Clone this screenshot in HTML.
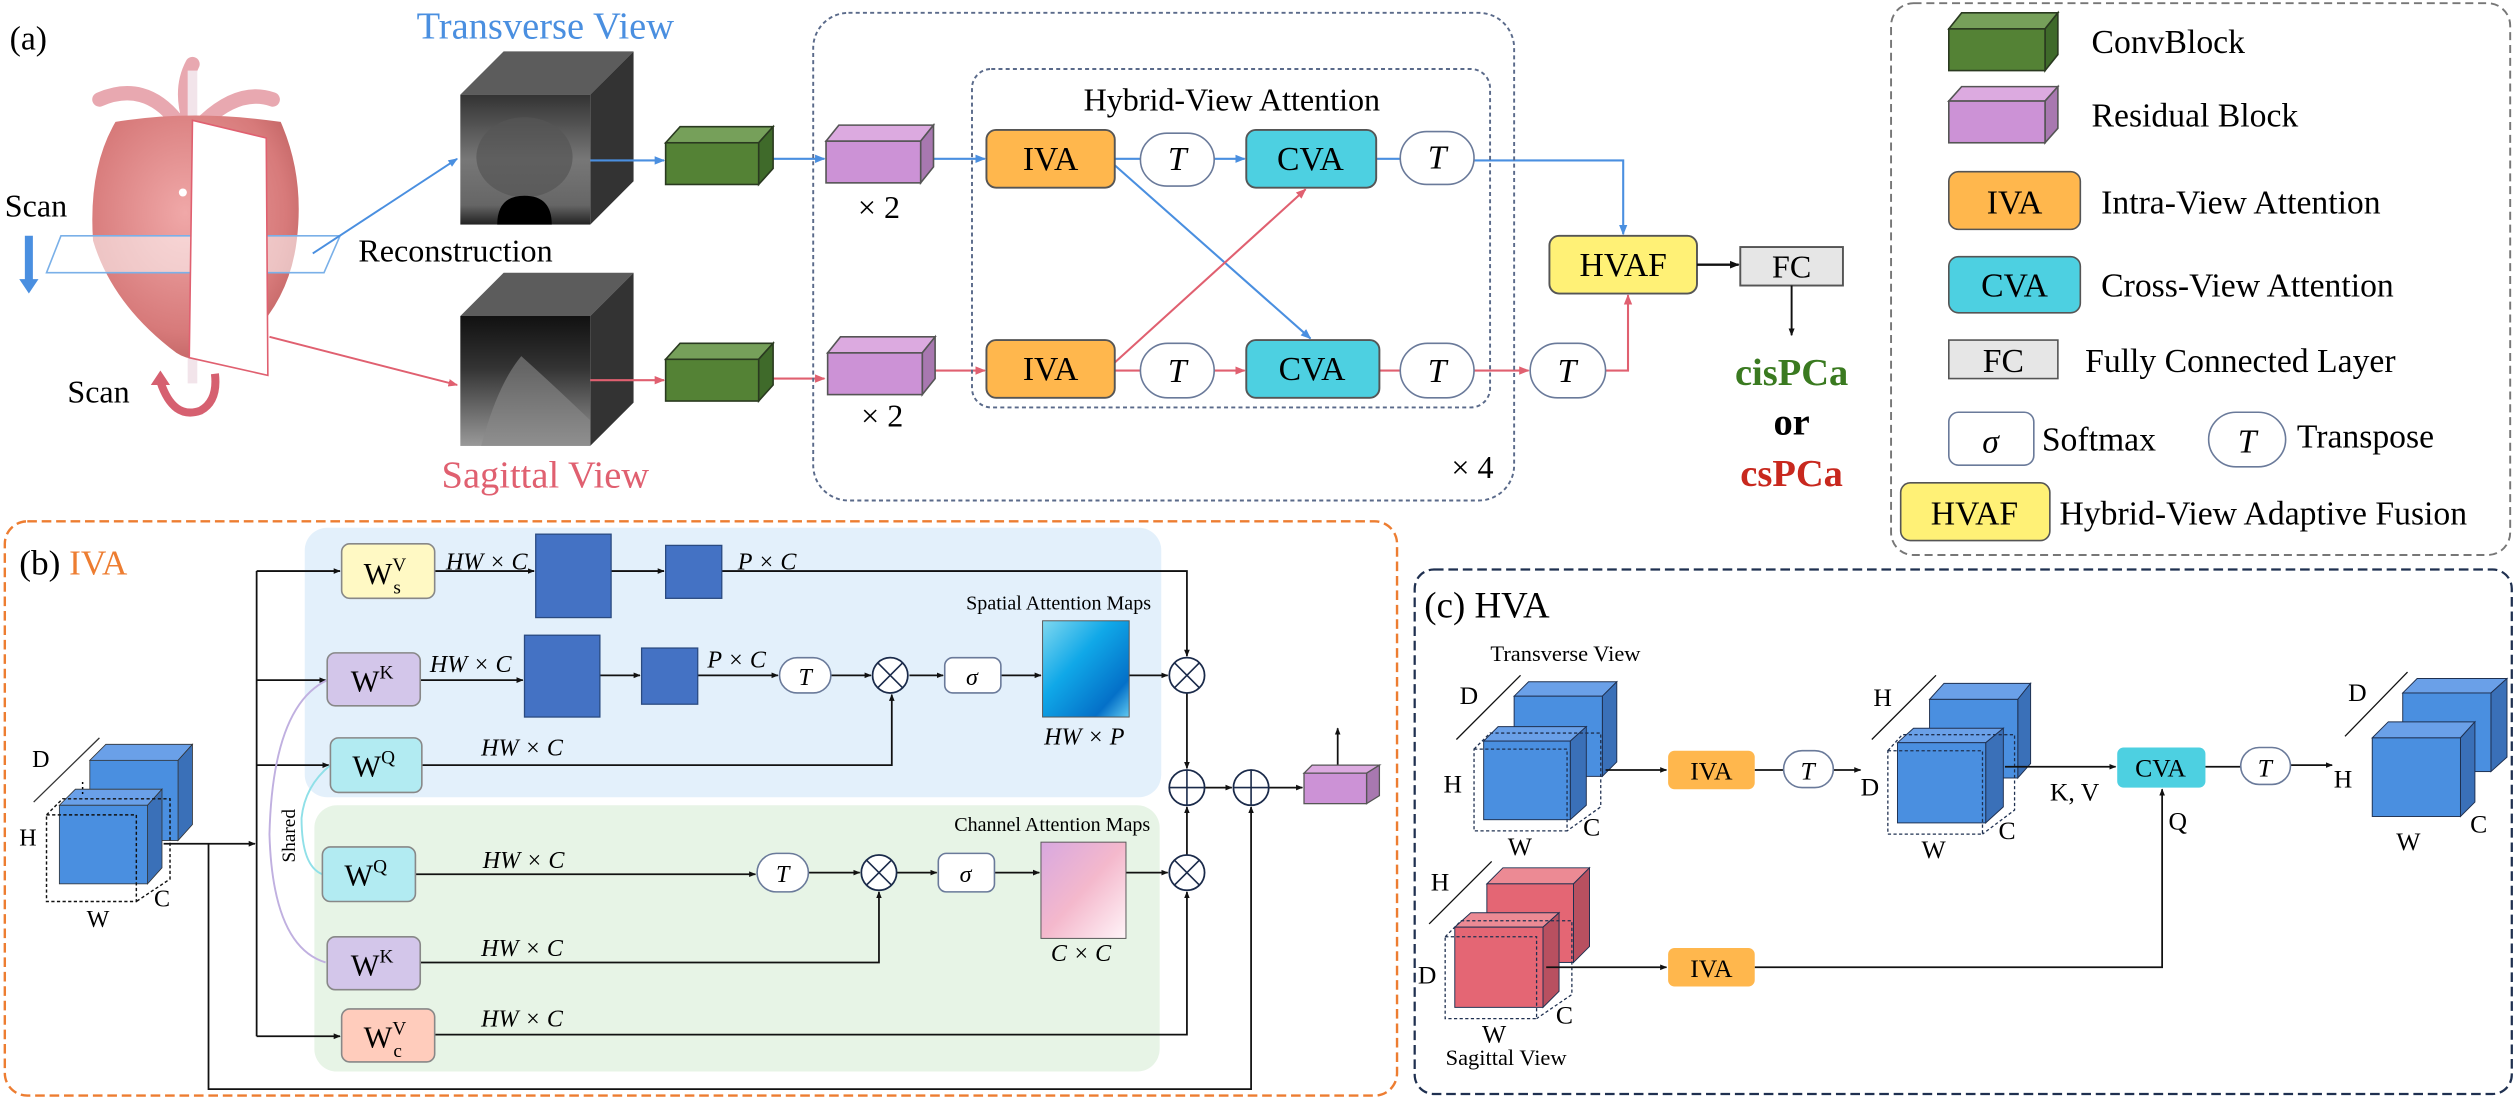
<!DOCTYPE html>
<html><head><meta charset="utf-8"><style>
html,body{margin:0;padding:0;background:#fff;}
svg{display:block;font-family:"Liberation Serif","DejaVu Serif","Times New Roman",serif;}
svg text{font-family:"Liberation Serif","DejaVu Serif","Times New Roman",serif;}
.it{font-style:italic;}
</style></head><body>
<svg width="2515" height="1098" viewBox="0 0 1568 684.5" preserveAspectRatio="none" xmlns="http://www.w3.org/2000/svg" font-family="Liberation Serif, DejaVu Serif, serif">
<defs>
<marker id="ab" viewBox="0 0 10 10" refX="9" refY="5" markerWidth="5" markerHeight="5" orient="auto"><path d="M0,1 L10,5 L0,9z" fill="#4a8fe0"/></marker>
<marker id="ar" viewBox="0 0 10 10" refX="9" refY="5" markerWidth="5" markerHeight="5" orient="auto"><path d="M0,1 L10,5 L0,9z" fill="#e06070"/></marker>
<marker id="ak" viewBox="0 0 10 10" refX="9" refY="5" markerWidth="4" markerHeight="4" orient="auto"><path d="M0,1 L10,5 L0,9z" fill="#111"/></marker>
<radialGradient id="org" cx="0.45" cy="0.4" r="0.7"><stop offset="0" stop-color="#f0a8a8"/><stop offset="0.7" stop-color="#d77a7a"/><stop offset="1" stop-color="#b85a5a"/></radialGradient>
<linearGradient id="sp" x1="0" y1="0" x2="1" y2="1"><stop offset="0" stop-color="#7fd8f0"/><stop offset="0.4" stop-color="#10a8e8"/><stop offset="0.8" stop-color="#0470c8"/><stop offset="1" stop-color="#60c8f0"/></linearGradient>
<linearGradient id="ch" x1="0" y1="0" x2="1" y2="1"><stop offset="0" stop-color="#d8a8e0"/><stop offset="0.5" stop-color="#f4b8cc"/><stop offset="1" stop-color="#fff4f8"/></linearGradient>
<linearGradient id="us1" x1="0" y1="0" x2="0" y2="1"><stop offset="0" stop-color="#333"/><stop offset="0.5" stop-color="#777"/><stop offset="0.85" stop-color="#666"/><stop offset="1" stop-color="#222"/></linearGradient>
<linearGradient id="us2" x1="0" y1="0" x2="0" y2="1"><stop offset="0" stop-color="#111"/><stop offset="0.4" stop-color="#333"/><stop offset="0.8" stop-color="#777"/><stop offset="1" stop-color="#999"/></linearGradient>
</defs>

<text x="6" y="31" font-size="21">(a)</text>
<path d="M62,62 Q90,50 110,75 L118,75 Q112,55 120,40" stroke="#e8a8b0" stroke-width="9" fill="none" stroke-linecap="round"/>
<path d="M170,62 Q150,55 128,75" stroke="#e8a8b0" stroke-width="9" fill="none" stroke-linecap="round"/>
<rect x="117" y="44" width="6" height="195" fill="#f2e4ea"/>
<path d="M72,76 Q120,68 175,76 Q190,110 185,150 Q180,190 150,215 Q125,230 110,220 Q70,190 58,150 Q55,105 72,76z" fill="url(#org)"/>
<circle cx="114" cy="120" r="2.5" fill="#fff"/>
<polygon points="38,147 212,147 202,170 29,170" fill="rgba(255,255,255,0.55)" stroke="#7ab0e8" stroke-width="1"/>
<polygon points="120,75 166,86 167,234 118,223" fill="#fff" stroke="#e06070" stroke-width="1"/>
<text x="3" y="135" font-size="20">Scan</text>
<path d="M18,147 L18,176" stroke="#4a8fe0" stroke-width="5"/>
<path d="M12,174 L24,174 L18,183z" fill="#4a8fe0"/>
<text x="42" y="251" font-size="20">Scan</text>
<path d="M100,238 Q108,262 125,256 Q136,250 134,233" stroke="#d66070" stroke-width="5" fill="none"/>
<path d="M94,240 L106,240 L100,231z" fill="#d66070"/>
<line x1="195" y1="158" x2="285" y2="99" stroke="#4a8fe0" stroke-width="1.2" marker-end="url(#ab)"/>
<line x1="168" y1="210" x2="285" y2="240" stroke="#e06070" stroke-width="1.2" marker-end="url(#ar)"/>
<text x="340" y="24" font-size="24" fill="#4a8fe0" text-anchor="middle">Transverse View</text>
<text x="284" y="163" font-size="20" text-anchor="middle">Reconstruction</text>
<text x="340" y="304" font-size="24" fill="#e06070" text-anchor="middle">Sagittal View</text>
<polygon points="287,59 314,32 395,32 368,59" fill="#5c5c5c"/>
<polygon points="368,59 395,32 395,113 368,140" fill="#333"/>
<rect x="287" y="59" width="81" height="81" fill="url(#us1)"/>
<ellipse cx="327" cy="98" rx="30" ry="25" fill="#555" opacity="0.7"/>
<path d="M310,140 Q310,122 327,122 Q344,122 344,140z" fill="#000"/>
<polygon points="287,197 314,170 395,170 368,197" fill="#5c5c5c"/>
<polygon points="368,197 395,170 395,251 368,278" fill="#333"/>
<rect x="287" y="197" width="81" height="81" fill="url(#us2)"/>
<path d="M300,278 Q310,240 325,222 Q345,240 368,262 L368,278z" fill="#888" opacity="0.6"/>
<g stroke="#4a8fe0" stroke-width="1.3" fill="none">
<line x1="368" y1="100" x2="414" y2="100" marker-end="url(#ab)"/>
<line x1="482" y1="99" x2="514" y2="99" marker-end="url(#ab)"/>
<line x1="582" y1="99" x2="614" y2="99" marker-end="url(#ab)"/>
<line x1="695" y1="99" x2="711" y2="99"/>
<line x1="757" y1="99" x2="776" y2="99" marker-end="url(#ab)"/>
<line x1="858" y1="99" x2="873" y2="99"/>
<polyline points="919,100 1012,100 1012,146" marker-end="url(#ab)"/>
<line x1="695" y1="103" x2="817" y2="211" marker-end="url(#ab)"/>
</g>
<g stroke="#e06070" stroke-width="1.3" fill="none">
<line x1="368" y1="237" x2="414" y2="237" marker-end="url(#ar)"/>
<line x1="482" y1="236" x2="514" y2="236" marker-end="url(#ar)"/>
<line x1="582" y1="231" x2="614" y2="231" marker-end="url(#ar)"/>
<line x1="695" y1="231" x2="711" y2="231"/>
<line x1="757" y1="231" x2="776" y2="231" marker-end="url(#ar)"/>
<line x1="860" y1="231" x2="873" y2="231"/>
<line x1="919" y1="231" x2="953" y2="231" marker-end="url(#ar)"/>
<polyline points="1001,231 1015,231 1015,184" marker-end="url(#ar)"/>
<line x1="695" y1="226" x2="814" y2="118" marker-end="url(#ar)"/>
</g>
<g stroke="#2a3a20" stroke-width="1">
<polygon points="415,89 424,79 482,79 473,89" fill="#76a05a"/>
<polygon points="473,89 482,79 482,105 473,115" fill="#3f6a2a"/>
<rect x="415" y="89" width="58" height="26" fill="#548235"/>
<polygon points="415,224 424,214 482,214 473,224" fill="#76a05a"/>
<polygon points="473,224 482,214 482,240 473,250" fill="#3f6a2a"/>
<rect x="415" y="224" width="58" height="26" fill="#548235"/>
</g>
<g stroke="#555" stroke-width="1">
<polygon points="515,88 523,78 582,78 574,88" fill="#dcaae0"/>
<polygon points="574,88 582,78 582,104 574,114" fill="#a878b0"/>
<rect x="515" y="88" width="59" height="26" fill="#cc92d6"/>
<polygon points="516,220 524,210 583,210 575,220" fill="#dcaae0"/>
<polygon points="575,220 583,210 583,236 575,246" fill="#a878b0"/>
<rect x="516" y="220" width="59" height="26" fill="#cc92d6"/>
</g>
<text x="548" y="136" font-size="20" text-anchor="middle">× 2</text>
<text x="550" y="266" font-size="20" text-anchor="middle">× 2</text>
<rect x="507" y="8" width="437" height="304" rx="22" fill="none" stroke="#5a6a8a" stroke-width="1.2" stroke-dasharray="2.5,2"/>
<rect x="606" y="43" width="323" height="211" rx="12" fill="none" stroke="#5a6a8a" stroke-width="1.2" stroke-dasharray="2.5,2"/>
<text x="768" y="69" font-size="20" text-anchor="middle">Hybrid-View Attention</text>
<text x="918" y="298" font-size="20" text-anchor="middle">× 4</text>
<g stroke="#555" stroke-width="1.2">
<rect x="615" y="81" width="80" height="36" rx="6" fill="#ffb74d"/>
<rect x="615" y="212" width="80" height="36" rx="6" fill="#ffb74d"/>
<rect x="777" y="81" width="81" height="36" rx="6" fill="#4dd0e1"/>
<rect x="777" y="212" width="83" height="36" rx="6" fill="#4dd0e1"/>
</g>
<g stroke="#6a7a9a" stroke-width="1" fill="#fff">
<rect x="711" y="83" width="46" height="33" rx="16.5"/>
<rect x="711" y="214" width="46" height="34" rx="17"/>
<rect x="873" y="82" width="46" height="33" rx="16.5"/>
<rect x="873" y="214" width="46" height="34" rx="17"/>
<rect x="954" y="214" width="47" height="34" rx="17"/>
</g>
<g font-size="21" text-anchor="middle">
<text x="655" y="106">IVA</text><text x="655" y="237">IVA</text>
<text x="817" y="106">CVA</text><text x="818" y="237">CVA</text>
<text class="it" x="734" y="106">T</text><text class="it" x="734" y="238">T</text>
<text class="it" x="896" y="105">T</text><text class="it" x="896" y="238">T</text>
<text class="it" x="977" y="238">T</text>
</g>
<rect x="966" y="147" width="92" height="36" rx="6" fill="#fff176" stroke="#555" stroke-width="1.2"/>
<text x="1012" y="172" font-size="21" text-anchor="middle">HVAF</text>
<line x1="1058" y1="165" x2="1084" y2="165" stroke="#111" stroke-width="1.5" marker-end="url(#ak)"/>
<rect x="1085" y="154" width="64" height="24" fill="#e6e6e6" stroke="#555" stroke-width="1.2"/>
<text x="1117" y="173" font-size="20" text-anchor="middle">FC</text>
<line x1="1117" y1="178" x2="1117" y2="209" stroke="#111" stroke-width="1.2" marker-end="url(#ak)"/>
<text x="1117" y="240" font-size="24" font-weight="bold" fill="#3a7a20" text-anchor="middle">cisPCa</text>
<text x="1117" y="271" font-size="24" font-weight="bold" text-anchor="middle">or</text>
<text x="1117" y="303" font-size="24" font-weight="bold" fill="#c8281e" text-anchor="middle">csPCa</text>

<rect x="1179" y="2" width="386" height="344" rx="14" fill="none" stroke="#777" stroke-width="1.2" stroke-dasharray="5,3"/>
<g stroke="#2a3a20" stroke-width="1">
<polygon points="1215,18 1223,8 1283,8 1275,18" fill="#76a05a"/>
<polygon points="1275,18 1283,8 1283,34 1275,44" fill="#3f6a2a"/>
<rect x="1215" y="18" width="60" height="26" fill="#548235"/>
</g>
<g stroke="#555" stroke-width="1">
<polygon points="1215,63 1223,54 1283,54 1275,63" fill="#dcaae0"/>
<polygon points="1275,63 1283,54 1283,80 1275,89" fill="#a878b0"/>
<rect x="1215" y="63" width="60" height="26" fill="#cc92d6"/>
<rect x="1215" y="107" width="82" height="36" rx="6" fill="#ffb74d"/>
<rect x="1215" y="160" width="82" height="35" rx="6" fill="#4dd0e1"/>
<rect x="1215" y="212" width="68" height="24" fill="#e6e6e6"/>
<rect x="1185" y="301" width="93" height="36" rx="6" fill="#fff176"/>
</g>
<rect x="1215" y="257" width="53" height="33" rx="6" fill="#fff" stroke="#6a7a9a"/>
<rect x="1377" y="257" width="48" height="34" rx="17" fill="#fff" stroke="#6a7a9a"/>
<g font-size="21">
<text x="1304" y="33">ConvBlock</text>
<text x="1304" y="79">Residual Block</text>
<text x="1256" y="133" text-anchor="middle">IVA</text>
<text x="1310" y="133">Intra-View Attention</text>
<text x="1256" y="185" text-anchor="middle">CVA</text>
<text x="1310" y="185">Cross-View Attention</text>
<text x="1249" y="232" text-anchor="middle">FC</text>
<text x="1300" y="232">Fully Connected Layer</text>
<text class="it" x="1241" y="282" text-anchor="middle">σ</text>
<text x="1273" y="281">Softmax</text>
<text class="it" x="1401" y="282" text-anchor="middle">T</text>
<text x="1432" y="279">Transpose</text>
<text x="1231" y="327" text-anchor="middle">HVAF</text>
<text x="1284" y="327">Hybrid-View Adaptive Fusion</text>
</g>

<rect x="3" y="325" width="868" height="358" rx="14" fill="none" stroke="#ed7d31" stroke-width="1.5" stroke-dasharray="6,3"/>
<text x="12" y="358" font-size="22">(b) <tspan fill="#ed7d31">IVA</tspan></text>
<rect x="190" y="329" width="534" height="168" rx="14" fill="#e3f0fb"/>
<rect x="196" y="502" width="527" height="166" rx="14" fill="#e7f4e6"/>
<line x1="21" y1="500" x2="62" y2="460" stroke="#333" stroke-width="0.8"/>
<polygon points="56,474 66,464 120,464 111,474" fill="#6aa0e8" stroke="#333" stroke-width="0.5"/>
<polygon points="111,474 120,464 120,514 111,524" fill="#3a70b8" stroke="#333" stroke-width="0.5"/>
<rect x="56" y="474" width="55" height="50" fill="#4a8fe0" stroke="#333" stroke-width="0.5"/>
<polygon points="37,502 47,492 101,492 92,502" fill="#6aa0e8" stroke="#333" stroke-width="0.5"/>
<polygon points="92,502 101,492 101,541 92,551" fill="#3a70b8" stroke="#333" stroke-width="0.5"/>
<rect x="37" y="502" width="55" height="49" fill="#4a8fe0" stroke="#333" stroke-width="0.5"/>
<path d="M29,508 L85,508 L85,562 L29,562z M29,508 L39,498 L106,498 L106,548 L85,562" fill="none" stroke="#111" stroke-width="0.9" stroke-dasharray="2,1.5"/>
<g font-size="15"><text x="20" y="478">D</text><text x="12" y="527">H</text><text x="96" y="565">C</text><text x="54" y="578">W</text></g>
<text x="47" y="494" font-size="9">⋮</text>
<g stroke="#111" stroke-width="1.1" fill="none">
<line x1="102" y1="526" x2="159" y2="526" marker-end="url(#ak)"/>
<line x1="160" y1="356" x2="160" y2="646"/>
<line x1="160" y1="356" x2="212" y2="356" marker-end="url(#ak)"/>
<line x1="160" y1="424" x2="203" y2="424" marker-end="url(#ak)"/>
<line x1="160" y1="477" x2="205" y2="477" marker-end="url(#ak)"/>
<line x1="160" y1="646" x2="212" y2="646" marker-end="url(#ak)"/>
<polyline points="130,526 130,679 780,679 780,503" marker-end="url(#ak)"/>
<line x1="271" y1="356" x2="333" y2="356" marker-end="url(#ak)"/>
<line x1="381" y1="356" x2="414" y2="356" marker-end="url(#ak)"/>
<polyline points="450,356 740,356 740,409" marker-end="url(#ak)"/>
<line x1="262" y1="424" x2="326" y2="424" marker-end="url(#ak)"/>
<line x1="374" y1="421" x2="399" y2="421" marker-end="url(#ak)"/>
<line x1="435" y1="421" x2="485" y2="421" marker-end="url(#ak)"/>
<line x1="518" y1="421" x2="543" y2="421" marker-end="url(#ak)"/>
<line x1="567" y1="421" x2="588" y2="421" marker-end="url(#ak)"/>
<line x1="624" y1="421" x2="649" y2="421" marker-end="url(#ak)"/>
<line x1="704" y1="421" x2="728" y2="421" marker-end="url(#ak)"/>
<polyline points="263,477 556,477 556,433" marker-end="url(#ak)"/>
<line x1="740" y1="432" x2="740" y2="479" marker-end="url(#ak)"/>
<line x1="751" y1="491" x2="768" y2="491" marker-end="url(#ak)"/>
<line x1="791" y1="491" x2="812" y2="491" marker-end="url(#ak)"/>
<line x1="834" y1="477" x2="834" y2="454" marker-end="url(#ak)"/>
<line x1="259" y1="545" x2="471" y2="545" marker-end="url(#ak)"/>
<line x1="504" y1="544" x2="536" y2="544" marker-end="url(#ak)"/>
<line x1="559" y1="544" x2="584" y2="544" marker-end="url(#ak)"/>
<line x1="620" y1="544" x2="648" y2="544" marker-end="url(#ak)"/>
<line x1="702" y1="544" x2="728" y2="544" marker-end="url(#ak)"/>
<polyline points="262,600 548,600 548,556" marker-end="url(#ak)"/>
<polyline points="271,645 740,645 740,556" marker-end="url(#ak)"/>
<line x1="740" y1="533" x2="740" y2="503" marker-end="url(#ak)"/>
</g>
<path d="M204,424 Q170,440 168,520 Q170,590 203,600" stroke="#c0b0e0" stroke-width="1.2" fill="none"/>
<path d="M206,477 Q190,490 188,510 Q188,540 201,545" stroke="#90e0e8" stroke-width="1.2" fill="none"/>
<text x="184" y="521" font-size="12" transform="rotate(-90 184 521)" text-anchor="middle">Shared</text>
<g stroke="#888" stroke-width="1">
<rect x="213" y="339" width="58" height="34" rx="5" fill="#fff9c4"/>
<rect x="204" y="407" width="58" height="33" rx="5" fill="#d3c6ea"/>
<rect x="206" y="460" width="57" height="34" rx="5" fill="#b2ebf2"/>
<rect x="201" y="528" width="58" height="34" rx="5" fill="#b2ebf2"/>
<rect x="204" y="584" width="58" height="33" rx="5" fill="#d3c6ea"/>
<rect x="213" y="629" width="58" height="33" rx="5" fill="#ffccbc"/>
</g>
<g font-size="19" text-anchor="middle">
<text x="240" y="364">W<tspan font-size="12" dy="-8">V</tspan><tspan font-size="12" dx="-8" dy="14">s</tspan></text>
<text x="232" y="431">W<tspan font-size="12" dy="-8">K</tspan></text>
<text x="233" y="484">W<tspan font-size="12" dy="-8">Q</tspan></text>
<text x="228" y="552">W<tspan font-size="12" dy="-8">Q</tspan></text>
<text x="232" y="608">W<tspan font-size="12" dy="-8">K</tspan></text>
<text x="240" y="653">W<tspan font-size="12" dy="-8">V</tspan><tspan font-size="12" dx="-8" dy="14">c</tspan></text>
</g>
<g fill="#4472c4" stroke="#2a4a80" stroke-width="0.8">
<rect x="334" y="333" width="47" height="52"/>
<rect x="415" y="340" width="35" height="33"/>
<rect x="327" y="396" width="47" height="51"/>
<rect x="400" y="404" width="35" height="35"/>
</g>
<rect x="650" y="387" width="54" height="60" fill="url(#sp)" stroke="#555" stroke-width="0.6"/>
<rect x="649" y="525" width="53" height="60" fill="url(#ch)" stroke="#555" stroke-width="0.6"/>
<g stroke="#6a7a9a" stroke-width="1" fill="#fff">
<rect x="486" y="410" width="32" height="22" rx="11"/>
<rect x="589" y="410" width="35" height="22" rx="5"/>
<rect x="472" y="532" width="32" height="24" rx="12"/>
<rect x="585" y="532" width="35" height="24" rx="5"/>
</g>
<g font-size="15" text-anchor="middle">
<text class="it" x="502" y="427">T</text><text class="it" x="606" y="427">σ</text>
<text class="it" x="488" y="550">T</text><text class="it" x="602" y="550">σ</text>
</g>
<g stroke="#1a2a4a" stroke-width="1.1" fill="#fff">
<circle cx="555" cy="421" r="11"/><circle cx="740" cy="421" r="11"/>
<circle cx="548" cy="544" r="11"/><circle cx="740" cy="544" r="11"/>
<circle cx="740" cy="491" r="11"/><circle cx="780" cy="491" r="11"/>
</g>
<g stroke="#1a2a4a" stroke-width="1">
<path d="M547,413 L563,429 M563,413 L547,429"/><path d="M732,413 L748,429 M748,413 L732,429"/>
<path d="M540,536 L556,552 M556,536 L540,552"/><path d="M732,536 L748,552 M748,536 L732,552"/>
<path d="M729,491 L751,491 M740,480 L740,502"/><path d="M769,491 L791,491 M780,480 L780,502"/>
</g>
<g stroke="#555" stroke-width="0.8">
<polygon points="813,482 818,477 860,477 852,482" fill="#dcaae0"/>
<polygon points="852,482 860,477 860,496 852,501" fill="#a878b0"/>
<rect x="813" y="482" width="39" height="19" fill="#cc92d6"/>
</g>
<g font-size="15">
<text class="it" x="278" y="355">HW × C</text>
<text class="it" x="460" y="355">P × C</text>
<text class="it" x="268" y="419">HW × C</text>
<text class="it" x="441" y="416">P × C</text>
<text class="it" x="300" y="471">HW × C</text>
<text class="it" x="301" y="541">HW × C</text>
<text class="it" x="300" y="596">HW × C</text>
<text class="it" x="300" y="640">HW × C</text>
<text class="it" x="676" y="464" text-anchor="middle">HW × P</text>
<text class="it" x="674" y="599" text-anchor="middle">C × C</text>
</g>
<text x="660" y="380" font-size="12.5" text-anchor="middle">Spatial Attention Maps</text>
<text x="656" y="518" font-size="12.5" text-anchor="middle">Channel Attention Maps</text>

<rect x="882" y="355" width="684" height="327" rx="12" fill="none" stroke="#1f3050" stroke-width="1.4" stroke-dasharray="6,3"/>
<text x="888" y="385" font-size="23">(c)  HVA</text>
<text x="976" y="412" font-size="14" text-anchor="middle">Transverse View</text>
<g stroke="#1f3050" stroke-width="0.6">
<polygon points="944,434 953,425 1008,425 999,434" fill="#6aa0e8"/>
<polygon points="999,434 1008,425 1008,475 999,484" fill="#3a70b8"/>
<rect x="944" y="434" width="55" height="50" fill="#4a8fe0"/>
<polygon points="925,462 934,453 989,453 979,462" fill="#6aa0e8"/>
<polygon points="979,462 989,453 989,502 979,511" fill="#3a70b8"/>
<rect x="925" y="462" width="54" height="49" fill="#4a8fe0"/>
<polygon points="1203,436 1212,426 1266,426 1258,436" fill="#6aa0e8"/>
<polygon points="1258,436 1266,426 1266,476 1258,485" fill="#3a70b8"/>
<rect x="1203" y="436" width="55" height="49" fill="#4a8fe0"/>
<polygon points="1183,463 1193,454 1249,454 1238,463" fill="#6aa0e8"/>
<polygon points="1238,463 1249,454 1249,503 1238,513" fill="#3a70b8"/>
<rect x="1183" y="463" width="55" height="50" fill="#4a8fe0"/>
<polygon points="1498,432 1507,423 1563,423 1553,432" fill="#6aa0e8"/>
<polygon points="1553,432 1563,423 1563,472 1553,481" fill="#3a70b8"/>
<rect x="1498" y="432" width="55" height="49" fill="#4a8fe0"/>
<polygon points="1479,460 1489,450 1543,450 1534,460" fill="#6aa0e8"/>
<polygon points="1534,460 1543,450 1543,500 1534,509" fill="#3a70b8"/>
<rect x="1479" y="460" width="55" height="49" fill="#4a8fe0"/>
<polygon points="927,551 937,541 991,541 981,551" fill="#ec8a94"/>
<polygon points="981,551 991,541 991,590 981,600" fill="#b85060"/>
<rect x="927" y="551" width="54" height="49" fill="#e46674"/>
<polygon points="907,578 917,569 972,569 962,578" fill="#ec8a94"/>
<polygon points="962,578 972,569 972,618 962,628" fill="#b85060"/>
<rect x="907" y="578" width="55" height="50" fill="#e46674"/>
</g>
<g fill="none" stroke="#1f3050" stroke-width="0.8" stroke-dasharray="2,1.5">
<path d="M919,467 L977,467 L977,518 L919,518z M919,467 L929,457 L998,457 L998,503 L977,518"/>
<path d="M1177,468 L1236,468 L1236,520 L1177,520z M1177,468 L1186,458 L1256,458 L1256,505 L1236,520"/>
<path d="M901,584 L958,584 L958,635 L901,635z M901,584 L911,574 L980,574 L980,620 L958,635"/>
</g>
<g stroke="#111" stroke-width="0.8">
<line x1="908" y1="461" x2="948" y2="421"/>
<line x1="1167" y1="461" x2="1207" y2="421"/>
<line x1="1462" y1="459" x2="1501" y2="419"/>
<line x1="891" y1="576" x2="930" y2="537"/>
</g>
<g font-size="16">
<text x="910" y="439">D</text><text x="900" y="494">H</text><text x="940" y="533">W</text><text x="987" y="521">C</text>
<text x="1168" y="440">H</text><text x="1160" y="496">D</text><text x="1198" y="535">W</text><text x="1246" y="523">C</text>
<text x="1464" y="437">D</text><text x="1455" y="491">H</text><text x="1494" y="530">W</text><text x="1540" y="519">C</text>
<text x="892" y="555">H</text><text x="884" y="613">D</text><text x="924" y="650">W</text><text x="970" y="638">C</text>
<text x="1278" y="499">K, V</text><text x="1352" y="517">Q</text>
</g>
<text x="939" y="664" font-size="14" text-anchor="middle">Sagittal View</text>
<g stroke="#111" stroke-width="1.1" fill="none">
<line x1="1001" y1="480" x2="1039" y2="480" marker-end="url(#ak)"/>
<line x1="1094" y1="480" x2="1112" y2="480"/>
<line x1="1143" y1="480" x2="1160" y2="480" marker-end="url(#ak)"/>
<line x1="1250" y1="478" x2="1319" y2="478" marker-end="url(#ak)"/>
<line x1="1375" y1="478" x2="1397" y2="478"/>
<line x1="1428" y1="477" x2="1454" y2="477" marker-end="url(#ak)"/>
<line x1="964" y1="603" x2="1039" y2="603" marker-end="url(#ak)"/>
<polyline points="1094,603 1348,603 1348,492" marker-end="url(#ak)"/>
</g>
<rect x="1040" y="468" width="54" height="24" rx="4" fill="#ffb74d"/>
<rect x="1040" y="591" width="54" height="24" rx="4" fill="#ffb74d"/>
<rect x="1320" y="466" width="55" height="25" rx="4" fill="#4dd0e1"/>
<rect x="1112" y="468" width="31" height="23" rx="11.5" fill="#fff" stroke="#6a7a9a"/>
<rect x="1397" y="466" width="31" height="23" rx="11.5" fill="#fff" stroke="#6a7a9a"/>
<g font-size="16" text-anchor="middle">
<text x="1067" y="486">IVA</text><text x="1067" y="609">IVA</text><text x="1347" y="484">CVA</text>
<text class="it" x="1127" y="486">T</text><text class="it" x="1412" y="484">T</text>
</g>
</svg>
</body></html>
